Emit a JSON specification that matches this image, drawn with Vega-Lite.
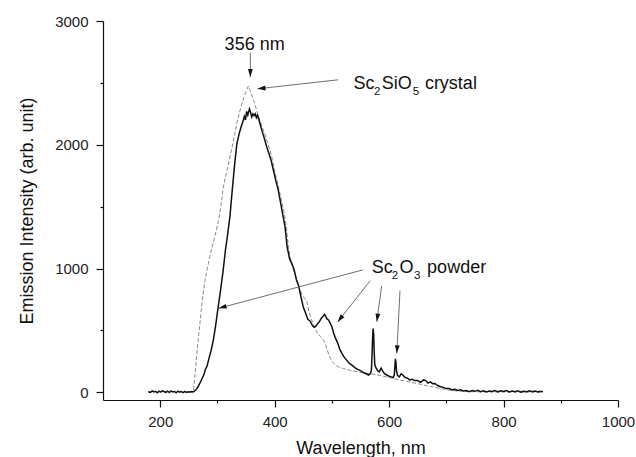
{
  "$schema": "https://vega.github.io/schema/vega-lite/v6.json",
  "width": 515,
  "height": 379,
  "autosize": {"type": "none"},
  "padding": {"left": 103, "top": 21, "right": 18, "bottom": 57},
  "background": "white",
  "config": {
    "view": {"stroke": null},
    "font": "Liberation Sans",
    "axis": {
      "grid": false,
      "domainColor": "#111",
      "domainWidth": 1.2,
      "tickColor": "#111",
      "tickWidth": 1.2,
      "labelFont": "Liberation Sans",
      "labelFontSize": 15,
      "labelColor": "#222",
      "labelFlush": false,
      "labelOverlap": false,
      "titleFont": "Liberation Sans",
      "titleFontSize": 18,
      "titleFontWeight": "normal",
      "titleColor": "#111"
    }
  },
  "datasets": {
    "powder": [
      {"x":179,"y":5},{"x":183,"y":0},{"x":186,"y":12},{"x":189,"y":3},{"x":192,"y":8},{"x":195,"y":-3},{"x":198,"y":10},{"x":201,"y":2},{"x":204,"y":14},{"x":207,"y":4},{"x":210,"y":0},{"x":213,"y":9},{"x":216,"y":-2},{"x":219,"y":12},{"x":222,"y":3},{"x":225,"y":7},{"x":228,"y":-4},{"x":231,"y":10},{"x":234,"y":2},{"x":237,"y":6},{"x":240,"y":-2},{"x":243,"y":8},{"x":246,"y":0},{"x":249,"y":5},{"x":252,"y":2},{"x":255,"y":6},{"x":258,"y":3},{"x":262,"y":18},{"x":266,"y":45},{"x":270,"y":80},{"x":273,"y":110},{"x":276,"y":140},{"x":279,"y":185},{"x":282,"y":215},{"x":285,"y":270},{"x":289,"y":340},{"x":293,"y":425},{"x":297,"y":545},{"x":301,"y":680},{"x":305,"y":810},{"x":310,"y":985},{"x":314,"y":1150},{"x":318,"y":1280},{"x":322,"y":1430},{"x":326,"y":1640},{"x":330,"y":1840},{"x":334,"y":2010},{"x":338,"y":2090},{"x":341,"y":2140},{"x":344,"y":2180},{"x":347,"y":2230},{"x":349,"y":2200},{"x":351,"y":2270},{"x":353,"y":2240},{"x":356,"y":2290},{"x":358,"y":2260},{"x":360,"y":2225},{"x":362,"y":2250},{"x":364,"y":2235},{"x":366,"y":2250},{"x":368,"y":2220},{"x":370,"y":2240},{"x":372,"y":2210},{"x":375,"y":2160},{"x":378,"y":2110},{"x":382,"y":2050},{"x":386,"y":1985},{"x":390,"y":1930},{"x":394,"y":1870},{"x":398,"y":1790},{"x":402,"y":1710},{"x":406,"y":1640},{"x":410,"y":1540},{"x":414,"y":1440},{"x":418,"y":1340},{"x":422,"y":1170},{"x":426,"y":1080},{"x":430,"y":1040},{"x":434,"y":990},{"x":438,"y":910},{"x":442,"y":860},{"x":446,"y":770},{"x":450,"y":690},{"x":454,"y":640},{"x":458,"y":590},{"x":462,"y":575},{"x":466,"y":540},{"x":469,"y":525},{"x":472,"y":535},{"x":475,"y":555},{"x":478,"y":570},{"x":481,"y":595},{"x":484,"y":610},{"x":487,"y":630},{"x":489,"y":615},{"x":491,"y":595},{"x":494,"y":585},{"x":497,"y":560},{"x":500,"y":530},{"x":503,"y":480},{"x":506,"y":440},{"x":510,"y":400},{"x":514,"y":345},{"x":518,"y":310},{"x":522,"y":280},{"x":526,"y":260},{"x":530,"y":235},{"x":535,"y":220},{"x":540,"y":200},{"x":545,"y":185},{"x":550,"y":175},{"x":555,"y":160},{"x":560,"y":150},{"x":564,"y":140},{"x":567,"y":150},{"x":569,"y":175},{"x":570,"y":280},{"x":571,"y":420},{"x":572,"y":515},{"x":573,"y":470},{"x":574,"y":320},{"x":575,"y":220},{"x":577,"y":200},{"x":580,"y":175},{"x":583,"y":165},{"x":586,"y":195},{"x":589,"y":170},{"x":592,"y":150},{"x":596,"y":140},{"x":600,"y":130},{"x":604,"y":125},{"x":607,"y":120},{"x":609,"y":140},{"x":610,"y":200},{"x":611,"y":270},{"x":612,"y":240},{"x":613,"y":170},{"x":615,"y":135},{"x":618,"y":125},{"x":621,"y":150},{"x":624,"y":140},{"x":628,"y":120},{"x":632,"y":115},{"x":636,"y":100},{"x":640,"y":105},{"x":645,"y":95},{"x":650,"y":95},{"x":655,"y":80},{"x":660,"y":100},{"x":664,"y":95},{"x":668,"y":75},{"x":672,"y":85},{"x":676,"y":70},{"x":680,"y":72},{"x":685,"y":55},{"x":690,"y":45},{"x":695,"y":40},{"x":700,"y":30},{"x":705,"y":30},{"x":710,"y":20},{"x":715,"y":25},{"x":720,"y":15},{"x":725,"y":20},{"x":730,"y":10},{"x":735,"y":15},{"x":740,"y":5},{"x":745,"y":14},{"x":750,"y":8},{"x":755,"y":16},{"x":760,"y":5},{"x":765,"y":12},{"x":770,"y":3},{"x":775,"y":10},{"x":780,"y":6},{"x":785,"y":14},{"x":790,"y":4},{"x":795,"y":12},{"x":800,"y":7},{"x":805,"y":15},{"x":810,"y":3},{"x":815,"y":10},{"x":820,"y":5},{"x":825,"y":12},{"x":830,"y":2},{"x":835,"y":9},{"x":840,"y":4},{"x":845,"y":13},{"x":850,"y":5},{"x":855,"y":10},{"x":860,"y":2},{"x":865,"y":8},{"x":869,"y":5}
    ],
    "crystal": [
      {"x":250,"y":0},{"x":255,"y":2},{"x":258,"y":10},{"x":261,"y":150},{"x":264,"y":315},{"x":267,"y":450},{"x":270,"y":585},{"x":274,"y":760},{"x":278,"y":900},{"x":282,"y":995},{"x":286,"y":1080},{"x":290,"y":1160},{"x":294,"y":1230},{"x":298,"y":1310},{"x":302,"y":1390},{"x":306,"y":1500},{"x":310,"y":1650},{"x":314,"y":1740},{"x":318,"y":1820},{"x":322,"y":1905},{"x":326,"y":1990},{"x":330,"y":2080},{"x":334,"y":2175},{"x":338,"y":2250},{"x":342,"y":2320},{"x":346,"y":2380},{"x":350,"y":2430},{"x":354,"y":2475},{"x":357,"y":2440},{"x":360,"y":2400},{"x":363,"y":2360},{"x":366,"y":2320},{"x":369,"y":2270},{"x":372,"y":2225},{"x":376,"y":2170},{"x":380,"y":2120},{"x":384,"y":2070},{"x":388,"y":2010},{"x":392,"y":1955},{"x":396,"y":1880},{"x":400,"y":1790},{"x":404,"y":1710},{"x":408,"y":1630},{"x":412,"y":1550},{"x":416,"y":1460},{"x":420,"y":1350},{"x":424,"y":1180},{"x":428,"y":1070},{"x":432,"y":1000},{"x":436,"y":950},{"x":440,"y":880},{"x":444,"y":830},{"x":448,"y":790},{"x":452,"y":760},{"x":456,"y":740},{"x":460,"y":650},{"x":464,"y":590},{"x":468,"y":550},{"x":472,"y":500},{"x":476,"y":470},{"x":480,"y":450},{"x":484,"y":430},{"x":488,"y":400},{"x":492,"y":340},{"x":496,"y":290},{"x":500,"y":250},{"x":505,"y":225},{"x":510,"y":210},{"x":515,"y":200},{"x":520,"y":192},{"x":530,"y":180},{"x":540,"y":170},{"x":550,"y":162},{"x":560,"y":155},{"x":570,"y":148},{"x":580,"y":140},{"x":590,"y":130},{"x":600,"y":120},{"x":610,"y":110},{"x":620,"y":98},{"x":630,"y":90},{"x":640,"y":80},{"x":650,"y":70},{"x":660,"y":60},{"x":670,"y":50},{"x":680,"y":40},{"x":690,"y":30},{"x":700,"y":22},{"x":710,"y":15},{"x":720,"y":10},{"x":740,"y":6},{"x":760,"y":4},{"x":800,"y":3},{"x":850,"y":2},{"x":869,"y":2}
    ],
    "arrows": [
      {"id":1,"x":357.5,"y":2744,"x2":357.5,"y2":2547},
      {"id":2,"x":511,"y":2525,"x2":370,"y2":2452},
      {"id":3,"x":554,"y":989,"x2":302,"y2":679},
      {"id":4,"x":567,"y":902,"x2":510,"y2":568},
      {"id":5,"x":587,"y":860,"x2":578.5,"y2":571},
      {"id":6,"x":619,"y":822,"x2":613.5,"y2":315}
    ],
    "labelsCenter": [
      {"t":"356 nm","x":365,"y":2768}
    ],
    "labelsMain": [
      {"t":"Sc","x":537.6,"y":2450},
      {"t":"SiO","x":587.1,"y":2450},
      {"t":"crystal","x":662.5,"y":2450},
      {"t":"Sc","x":569.8,"y":962},
      {"t":"O","x":618,"y":962},
      {"t":"powder","x":666.4,"y":962}
    ],
    "labelsSub": [
      {"t":"2","x":573.8,"y":2450},
      {"t":"5","x":641.2,"y":2450},
      {"t":"2","x":604.4,"y":962},
      {"t":"3","x":643.7,"y":962}
    ]
  },
  "encoding": {
    "x": {
      "field": "x",
      "type": "quantitative",
      "scale": {"domain": [100, 1000], "nice": false, "zero": false},
      "axis": {
        "values": [200, 300, 400, 500, 600, 700, 800, 900, 1000],
        "labelExpr": "datum.value % 200 === 0 ? datum.label : ''",
        "format": "d",
        "tickSize": {"condition": {"test": "datum.value % 200 === 0", "value": 7}, "value": 3},
        "labelPadding": 7,
        "title": "Wavelength, nm",
        "titleBaseline": "alphabetic",
        "titleY": 53
      }
    },
    "y": {
      "field": "y",
      "type": "quantitative",
      "scale": {"domain": [-62, 3000], "nice": false, "zero": false},
      "axis": {
        "values": [0, 500, 1000, 1500, 2000, 2500, 3000],
        "labelExpr": "datum.value % 1000 === 0 ? datum.label : ''",
        "format": "d",
        "tickSize": {"condition": {"test": "datum.value % 1000 === 0", "value": 7}, "value": 3},
        "labelPadding": 8,
        "title": "Emission Intensity (arb. unit)",
        "titleBaseline": "alphabetic",
        "titleX": -71,
        "titleY": 189.5
      }
    }
  },
  "layer": [
    {
      "data": {"name": "crystal"},
      "mark": {"type": "line", "color": "#8a8a8a", "strokeWidth": 1, "strokeDash": [4, 2]}
    },
    {
      "data": {"name": "powder"},
      "mark": {"type": "line", "color": "#111111", "strokeWidth": 1.5}
    },
    {
      "data": {"name": "arrows"},
      "mark": {"type": "rule", "color": "#707070", "strokeWidth": 1},
      "encoding": {
        "x2": {"field": "x2"},
        "y2": {"field": "y2"}
      }
    },
    {
      "data": {"name": "arrows"},
      "mark": {"type": "point", "shape": "M0,0L-0.3,1L0.3,1Z", "filled": true, "color": "#111111", "size": 256, "opacity": 1},
      "encoding": {
        "x": {"field": "x2", "type": "quantitative"},
        "y": {"field": "y2", "type": "quantitative"},
        "angle": {
          "field": "id",
          "type": "quantitative",
          "scale": {"type": "linear", "domain": [1, 2, 3, 4, 5, 6], "range": [180, 264, 255, 218, 188, 183]},
          "legend": null
        }
      }
    },
    {
      "data": {"name": "labelsCenter"},
      "mark": {"type": "text", "align": "center", "baseline": "alphabetic", "fontSize": 18, "font": "Liberation Sans", "color": "#111111"},
      "encoding": {"text": {"field": "t"}}
    },
    {
      "data": {"name": "labelsMain"},
      "mark": {"type": "text", "align": "left", "baseline": "alphabetic", "fontSize": 18, "font": "Liberation Sans", "color": "#111111"},
      "encoding": {"text": {"field": "t"}}
    },
    {
      "data": {"name": "labelsSub"},
      "mark": {"type": "text", "align": "left", "baseline": "alphabetic", "fontSize": 11.5, "dy": 6, "font": "Liberation Sans", "color": "#111111"},
      "encoding": {"text": {"field": "t"}}
    }
  ]
}
